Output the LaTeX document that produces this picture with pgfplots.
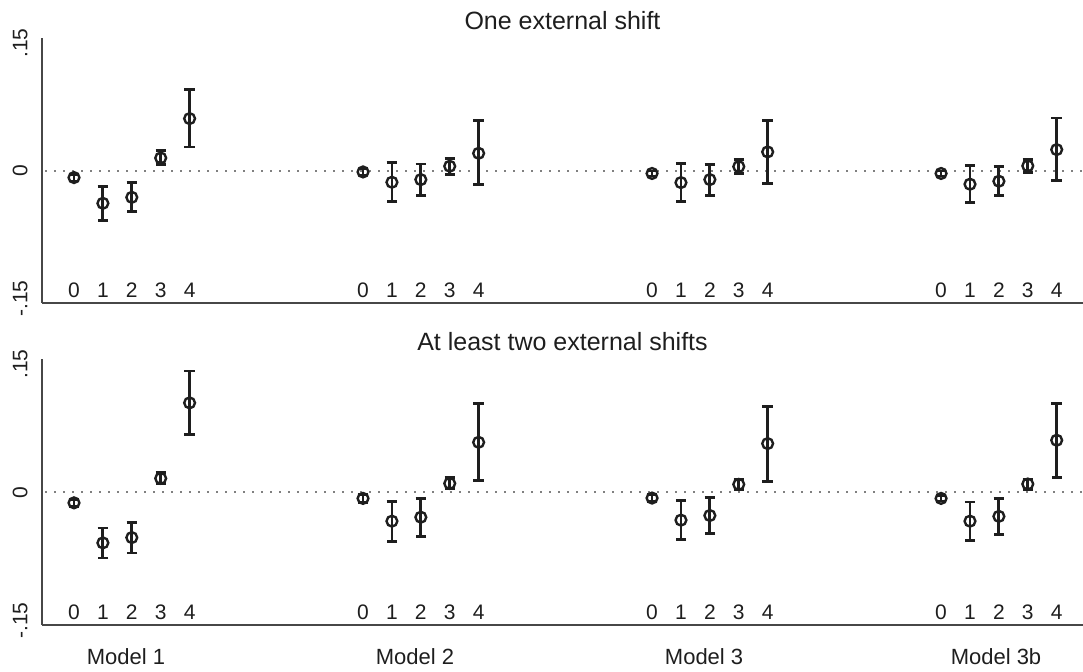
\documentclass[border=0pt]{standalone}
\usepackage{fontspec}
\setmainfont{Liberation Sans}
\usepackage{pgfplots}
\usepackage{pgfplotstable}
\pgfplotsset{compat=1.18}

\pgfplotstableread{
x y lo hi
0 -0.0078 -0.0118 -0.0038
1 -0.0380 -0.0580 -0.0180
2 -0.0310 -0.0480 -0.0140
3 0.0152 0.0079 0.0240
4 0.0614 0.0281 0.0954
10 -0.0012 -0.0047 0.0023
11 -0.0133 -0.0363 0.0098
12 -0.0102 -0.0293 0.0082
13 0.0055 -0.0039 0.0145
14 0.0207 -0.0160 0.0590
20 -0.0030 -0.0060 0.0000
21 -0.0137 -0.0360 0.0086
22 -0.0102 -0.0285 0.0074
23 0.0051 -0.0035 0.0137
24 0.0223 -0.0148 0.0590
30 -0.0030 -0.0060 0.0000
31 -0.0156 -0.0375 0.0067
32 -0.0121 -0.0293 0.0055
33 0.0059 -0.0023 0.0133
34 0.0250 -0.0117 0.0622
}\topdata

\pgfplotstableread{
x y lo hi
0 -0.0122 -0.0162 -0.0082
1 -0.0590 -0.0766 -0.0415
2 -0.0528 -0.0708 -0.0348
3 0.0164 0.0105 0.0230
4 0.1047 0.0680 0.1420
10 -0.0070 -0.0120 -0.0020
11 -0.0336 -0.0570 -0.0102
12 -0.0290 -0.0520 -0.0070
13 0.0105 0.0043 0.0172
14 0.0586 0.0137 0.1039
20 -0.0066 -0.0106 -0.0026
21 -0.0324 -0.0555 -0.0094
22 -0.0270 -0.0484 -0.0059
23 0.0094 0.0031 0.0152
24 0.0571 0.0129 0.1008
30 -0.0070 -0.0100 -0.0040
31 -0.0336 -0.0559 -0.0113
32 -0.0280 -0.0492 -0.0074
33 0.0098 0.0035 0.0156
34 0.0610 0.0178 0.1040
}\botdata

\newcommand{\digitrow}{%
\node[dig] at (axis cs:0,-0.1485) {0};
\node[dig] at (axis cs:1,-0.1485) {1};
\node[dig] at (axis cs:2,-0.1485) {2};
\node[dig] at (axis cs:3,-0.1485) {3};
\node[dig] at (axis cs:4,-0.1485) {4};
\node[dig] at (axis cs:10,-0.1485) {0};
\node[dig] at (axis cs:11,-0.1485) {1};
\node[dig] at (axis cs:12,-0.1485) {2};
\node[dig] at (axis cs:13,-0.1485) {3};
\node[dig] at (axis cs:14,-0.1485) {4};
\node[dig] at (axis cs:20,-0.1485) {0};
\node[dig] at (axis cs:21,-0.1485) {1};
\node[dig] at (axis cs:22,-0.1485) {2};
\node[dig] at (axis cs:23,-0.1485) {3};
\node[dig] at (axis cs:24,-0.1485) {4};
\node[dig] at (axis cs:30,-0.1485) {0};
\node[dig] at (axis cs:31,-0.1485) {1};
\node[dig] at (axis cs:32,-0.1485) {2};
\node[dig] at (axis cs:33,-0.1485) {3};
\node[dig] at (axis cs:34,-0.1485) {4};
}

\definecolor{ink}{HTML}{1E1E1E}

\begin{document}
\begin{tikzpicture}
\useasboundingbox (0,0) rectangle (541.5pt,336pt);
\tikzset{dig/.style={anchor=base, inner sep=0pt, text=ink, font=\fontsize{10.5}{12}\selectfont}}
\pgfplotsset{
  panel/.style={
    at={(21pt,#1)}, anchor=south west, scale only axis, width=520.5pt,
    xmin=-1.107, xmax=34.91, ymin=-0.155, ymax=0.156,
    axis lines*=left, axis line style={line width=1.1pt, color=black!72},
    ytick={-0.15,0,0.15}, yticklabels={-.15,0,.15},
    yticklabel style={rotate=90, anchor=south, inner sep=0pt, text=ink, font=\fontsize{10.5}{12}\selectfont},
    yticklabel shift=7pt,
    major tick length=0pt,
    title style={font=\fontsize{12.5}{14}\selectfont, text=ink, anchor=center, at={(axis description cs:0.5,1)}, yshift=2.8pt},
    clip=false,
  },
  zeroline/.style={gray, line width=1pt, dash pattern=on 1pt off 3.5pt},
  est/.style={only marks, mark=o, mark size=2.7pt, ink,
    mark options={line width=1.2pt, draw=ink},
    error bars/.cd, y dir=both, y explicit,
    error bar style={line width=1.4pt, ink},
    error mark options={rotate=90, line width=1.4pt, mark size=2.6pt, ink}},
}
\begin{axis}[panel=184.5pt, height=132.5pt, xtick=\empty, title={One external shift}]
\addplot[zeroline] coordinates {(-1.0,0) (34.91,0)};
\addplot[est] table[x=x, y=y, y error plus expr=\thisrow{hi}-\thisrow{y}, y error minus expr=\thisrow{y}-\thisrow{lo}] {\topdata};
\digitrow
\end{axis}
\begin{axis}[panel=23.5pt, height=133pt, title={At least two external shifts},
    xtick={1.8,11.8,21.8,31.9}, xticklabels={Model 1,Model 2,Model 3,Model 3b},
    xticklabel style={anchor=north, inner sep=0pt, text=ink, font=\fontsize{11}{13}\selectfont},
    xticklabel shift=11.5pt]
\addplot[zeroline] coordinates {(-1.0,0) (34.91,0)};
\addplot[est] table[x=x, y=y, y error plus expr=\thisrow{hi}-\thisrow{y}, y error minus expr=\thisrow{y}-\thisrow{lo}] {\botdata};
\digitrow
\end{axis}
\end{tikzpicture}
\end{document}
